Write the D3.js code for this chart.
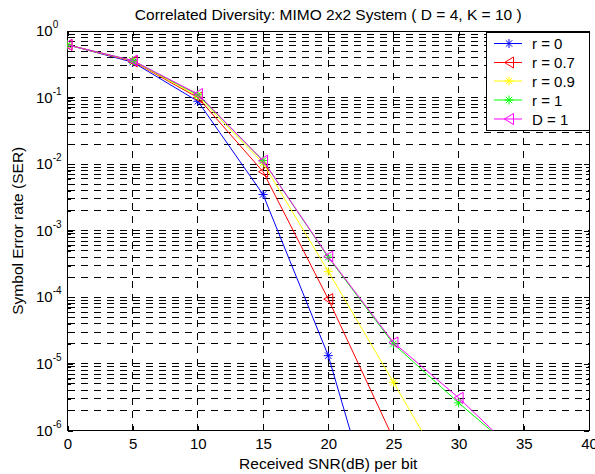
<!DOCTYPE html>
<html><head><meta charset="utf-8">
<script src="https://cdn.jsdelivr.net/npm/d3@7"></script>
<style>body{margin:0;background:#fff;} svg{display:block;font-family:"Liberation Sans",Arial,sans-serif;}</style>
</head><body>
<svg id="c" width="595" height="474"></svg>
<script>
const snr = [0, 5, 10, 15, 20, 25, 30, 35];
const serR0 = [0.62, 0.34, 0.088, 3.5e-3, 1.33e-5, 6e-9];
const serR07 = [0.62, 0.35, 0.1, 7.7e-3, 9.4e-5, 7.5e-7];
const serR09 = [0.62, 0.355, 0.105, 0.0104, 2.45e-4, 5.3e-6, 1.1e-7];
const serR1 = [0.62, 0.36, 0.11, 0.0113, 4.0e-4, 2.0e-5, 2.6e-6, 3.8e-7];
const serD1 = [0.62, 0.36, 0.113, 0.0113, 4.1e-4, 2.1e-5, 3.1e-6, 3.6e-7];
const seriesNames = ["r = 0", "r = 0.7", "r = 0.9", "r = 1", "D = 1"];
const seriesColors = ["#0000ff", "#ff0000", "#ffff00", "#00ff00", "#ff00ff"];
const seriesMarkers = ["star", "tri", "star", "star", "tri"];
const seriesData = [serR0, serR07, serR09, serR1, serD1];
const xTicks = [0, 5, 10, 15, 20, 25, 30, 35, 40];
const yExps = [0, -1, -2, -3, -4, -5, -6];
const titleText = "Correlated Diversity: MIMO 2x2 System ( D = 4, K = 10 )";
const xLabel = "Received SNR(dB) per bit";
const yLabel = "Symbol Error rate (SER)";

const L = 67.5, R = 589, T = 31, B = 430.5;
const svg = d3.select("#c");
const x = d3.scaleLinear().domain([0, 40]).range([L, R]);
const y = d3.scaleLog().domain([1e-6, 1]).range([B, T]);

svg.append("defs").append("clipPath").attr("id", "clip")
  .append("rect").attr("x", L).attr("y", T).attr("width", R - L).attr("height", B - T);

// grid
const g = svg.append("g");
const minor = [];
for (let e = -6; e < 0; e++) for (let m = 2; m <= 9; m++) minor.push(m * Math.pow(10, e));
const majorY = yExps.map(e => Math.pow(10, e));
const dash = "7,6";
g.selectAll(".gy").data(majorY.concat(minor)).enter().append("line")
  .attr("x1", L).attr("x2", R).attr("y1", d => y(d)).attr("y2", d => y(d))
  .attr("stroke", "#000").attr("stroke-width", 1).attr("stroke-dasharray", dash)
  .attr("shape-rendering", "crispEdges");
g.selectAll(".gx").data(xTicks).enter().append("line")
  .attr("y1", B).attr("y2", T).attr("x1", d => x(d)).attr("x2", d => x(d))
  .attr("stroke", "#000").attr("stroke-width", 1).attr("stroke-dasharray", dash)
  .attr("shape-rendering", "crispEdges");

// axes (ticks inside)
const tl = 5;
const axB = d3.axisBottom(x).tickValues(xTicks).tickSize(-tl).tickPadding(7.5).tickFormat(d3.format("d"));
const axT = d3.axisTop(x).tickValues(xTicks).tickSize(-tl).tickFormat("");
const axL = d3.axisLeft(y).tickValues(majorY).tickSize(-tl).tickFormat("");
const axR = d3.axisRight(y).tickValues(majorY).tickSize(-tl).tickFormat("");
const axLm = d3.axisLeft(y).tickValues(minor).tickSize(-3).tickFormat("");
const axRm = d3.axisRight(y).tickValues(minor).tickSize(-3).tickFormat("");
function style(sel) {
  sel.select(".domain").remove();
  sel.selectAll("line").attr("stroke", "#000").attr("shape-rendering", "crispEdges");
  sel.selectAll("text").attr("font-size", 15).attr("fill", "#000").attr("font-family", "Liberation Sans, Arial, sans-serif");
}
svg.append("g").attr("transform", `translate(0,${B})`).call(axB).call(style);
svg.append("g").attr("transform", `translate(0,${T})`).call(axT).call(style);
svg.append("g").attr("transform", `translate(${L},0)`).call(axL).call(style);
svg.append("g").attr("transform", `translate(${R},0)`).call(axR).call(style);
svg.append("g").attr("transform", `translate(${L},0)`).call(axLm).call(style);
svg.append("g").attr("transform", `translate(${R},0)`).call(axRm).call(style);

// y tick labels 10^e
const yl = svg.append("g");
yExps.forEach(e => {
  const t = yl.append("text").attr("x", 36).attr("y", y(Math.pow(10, e)) + 5)
    .attr("text-anchor", "start").attr("font-size", 15).attr("fill", "#000");
  t.append("tspan").text("10");
  t.append("tspan").attr("dy", -8).attr("font-size", 10).text(String(e));
});

// frame
svg.append("rect").attr("x", L).attr("y", T).attr("width", R - L).attr("height", B - T)
  .attr("fill", "none").attr("stroke", "#000").attr("stroke-width", 1).attr("shape-rendering", "crispEdges");

// markers
function drawMarker(sel, type, color, cx, cy) {
  if (type === "star") {
    const s = 4.5, d = 3.2;
    sel.append("path").attr("d",
      `M${cx - s},${cy}L${cx + s},${cy}M${cx},${cy - s}L${cx},${cy + s}M${cx - d},${cy - d}L${cx + d},${cy + d}M${cx - d},${cy + d}L${cx + d},${cy - d}`)
      .attr("stroke", color).attr("stroke-width", 1).attr("fill", "none");
  } else {
    const w = 4.5, h = 5.5;
    sel.append("path").attr("d", `M${cx - w},${cy}L${cx + w},${cy - h}L${cx + w},${cy + h}Z`)
      .attr("stroke", color).attr("stroke-width", 1).attr("fill", "none");
  }
}

const plot = svg.append("g").attr("clip-path", "url(#clip)");
const line = d3.line().x(d => x(d[0])).y(d => y(d[1]));
seriesData.forEach((vals, i) => {
  const pts = vals.map((v, j) => [snr[j], v]);
  plot.append("path").datum(pts).attr("d", line).attr("fill", "none")
    .attr("stroke", seriesColors[i]).attr("stroke-width", 1);
  const mg = plot.append("g");
  pts.forEach(p => { if (p[1] >= 1e-6) drawMarker(mg, seriesMarkers[i], seriesColors[i], x(p[0]), y(p[1])); });
});

// legend
const lg = svg.append("g");
lg.append("rect").attr("x", 486).attr("y", 32).attr("width", 103).attr("height", 98)
  .attr("fill", "#fff").attr("stroke", "#000").attr("shape-rendering", "crispEdges");
const ly = [43.5, 62.5, 81, 100, 119];
seriesNames.forEach((n, i) => {
  lg.append("line").attr("x1", 494).attr("x2", 522).attr("y1", ly[i]).attr("y2", ly[i])
    .attr("stroke", seriesColors[i]).attr("stroke-width", 1);
  drawMarker(lg, seriesMarkers[i], seriesColors[i], 509, ly[i]);
  lg.append("text").attr("x", 532).attr("y", ly[i] + 5.5).attr("font-size", 15).attr("fill", "#000").text(n);
});

// title and labels
svg.append("text").attr("x", (L + R) / 2).attr("y", 19.5).attr("text-anchor", "middle")
  .attr("font-size", 15.5).attr("fill", "#000").text(titleText);
svg.append("text").attr("x", (L + R) / 2).attr("y", 468.5).attr("text-anchor", "middle")
  .attr("font-size", 15.5).attr("fill", "#000").text(xLabel);
svg.append("text").attr("transform", `translate(23,${(T + B) / 2}) rotate(-90)`).attr("text-anchor", "middle")
  .attr("font-size", 15.5).attr("fill", "#000").text(yLabel);
</script>
</body></html>
